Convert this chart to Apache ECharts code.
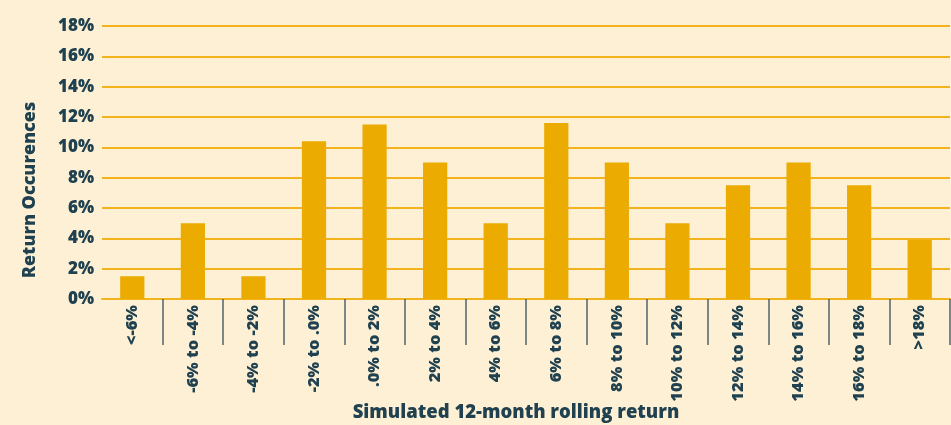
<!DOCTYPE html>
<html>
<head>
<meta charset="utf-8">
<script src="https://cdn.jsdelivr.net/npm/echarts@6/dist/echarts.min.js"></script>
<style>
  html, body { margin: 0; padding: 0; background: #fef0d5; }
  #chart { width: 951px; height: 425px; }
</style>
</head>
<body>
<div id="chart"></div>
<script>
const categories = ["<-6%", "-6% to -4%", "-4% to -2%", "-2% to .0%", ".0% to 2%", "2% to 4%", "4% to 6%",
  "6% to 8%", "8% to 10%", "10% to 12%", "12% to 14%", "14% to 16%", "16% to 18%", ">18%"];
const occurrences = [1.5, 5.0, 1.5, 10.4, 11.5, 9.0, 5.0, 11.6, 9.0, 5.0, 7.5, 9.0, 7.5, 3.9];
const xTitle = "Simulated 12-month rolling return";
const yTitle = "Return Occurences";

const textColor = "#1f4150";
const font = "'Open Sans', 'Noto Sans', sans-serif";

const myChart = echarts.init(document.getElementById("chart"));

const options = {
  backgroundColor: "#fef0d5",
  animation: false,
  grid: {
    left: 102,
    right: 1,
    top: 26,
    bottom: 126,
  },
  xAxis: {
    type: "category",
    data: categories,
    axisLine: { lineStyle: { color: "#f3b31c", width: 2 } },
    axisTick: {
      show: true,
      length: 46,
      // no tick on the outer edges, like the original
      interval: (index) => index !== 0,
      lineStyle: { color: "#51646b", width: 1.5 },
    },
    axisLabel: {
      rotate: 90,
      interval: 0,
      margin: 6,
      color: textColor,
      fontFamily: font,
      fontWeight: 800,
      fontSize: 16.5,
    },
  },
  yAxis: {
    type: "value",
    min: 0,
    max: 18,
    interval: 2,
    axisLine: { show: false },
    axisTick: { show: false },
    splitLine: { lineStyle: { color: "#f3b31c", width: 2 } },
    axisLabel: {
      formatter: "{value}%",
      margin: 8,
      color: textColor,
      fontFamily: font,
      fontWeight: 800,
      fontSize: 17,
    },
  },
  graphic: [
    {
      type: "text",
      x: 516,
      y: 413,
      style: {
        text: xTitle,
        fill: textColor,
        font: "800 18.5px " + font,
        textAlign: "center",
        textVerticalAlign: "middle",
      },
    },
    {
      type: "text",
      x: 30,
      y: 190,
      rotation: Math.PI / 2,
      style: {
        text: yTitle,
        fill: textColor,
        font: "800 18px " + font,
        textAlign: "center",
        textVerticalAlign: "middle",
      },
    },
  ],
  series: [
    {
      name: "Occurrences",
      type: "bar",
      barWidth: "40%",
      data: occurrences,
      itemStyle: { color: "#ebab00" },
    },
  ],
};

myChart.setOption(options);
</script>
</body>
</html>
